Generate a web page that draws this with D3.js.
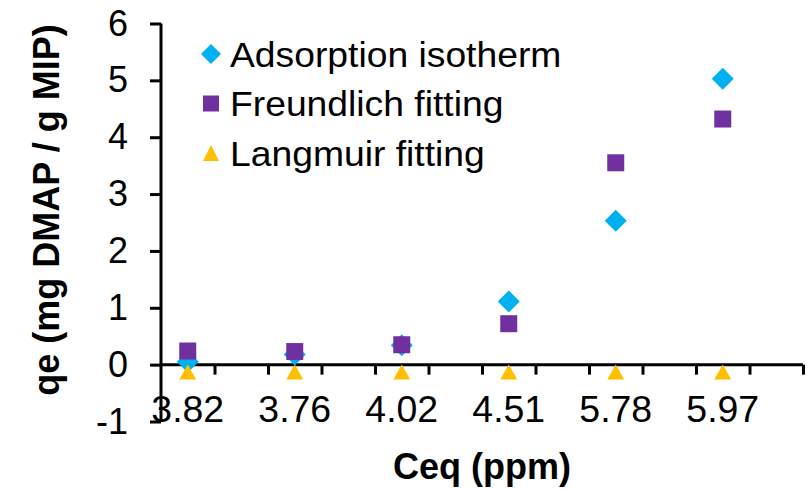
<!DOCTYPE html>
<html>
<head>
<meta charset="utf-8">
<script src="https://cdn.jsdelivr.net/npm/d3@7"></script>
<style>
  body { margin: 0; background: #fff; }
  svg { display: block; font-family: Arial, "Liberation Sans", sans-serif; }
</style>
</head>
<body>
<svg id="chart"></svg>
<script>
const WIDTH = 811;
const HEIGHT = 489;

// categories on the x axis (Ceq, ppm)
const categories = ["3.82", "3.76", "4.02", "4.51", "5.78", "5.97"];
const adsorption = [0.05, 0.18, 0.34, 1.11, 2.53, 5.03];
const freundlich = [0.24, 0.23, 0.35, 0.72, 3.55, 4.32];
const langmuir = [-0.13, -0.13, -0.13, -0.13, -0.13, -0.13];
const yTicks = [-1, 0, 1, 2, 3, 4, 5, 6];

const seriesNames = ["Adsorption isotherm", "Freundlich fitting", "Langmuir fitting"];
const seriesValues = [adsorption, freundlich, langmuir];
const seriesColors = ["#00B0F0", "#7030A0", "#FFC000"];
const seriesShapes = ["diamond", "square", "triangle"];

const LEFT = 161;
const RIGHT = 803;
const TOP = 23.5;
const BOTTOM = 421.5;

// the axis has two tick slots per category, points sit in the first half of each pair
const xScale = d3.scaleLinear().domain([0, categories.length * 2]).range([LEFT, RIGHT]);
const yScale = d3.scaleLinear().domain([-1, 6]).range([BOTTOM, TOP]);
const xPos = i => xScale(i * 2 + 0.5);

const svg = d3.select('#chart').attr('width', WIDTH).attr('height', HEIGHT);

// y axis
const yAxis = svg.append('g')
    .attr('transform', `translate(${LEFT}, 0)`)
    .call(d3.axisLeft(yScale).tickValues(yTicks).tickSize(11).tickPadding(22).tickFormat(d3.format('d')));
yAxis.select('.domain').attr('stroke', '#000').attr('stroke-width', 3).attr('d', `M0,${BOTTOM}V${TOP}`);
yAxis.selectAll('.tick line').attr('stroke', '#000').attr('stroke-width', 3);
yAxis.selectAll('.tick text')
    .attr('fill', '#000')
    .style('font-size', '36px')
    .text(d => d < 0 ? '-' + Math.abs(d) : d);

// x axis at y = 0
const xAxis = svg.append('g')
    .attr('transform', `translate(0, ${yScale(0)})`)
    .call(d3.axisBottom(xScale).ticks(categories.length * 2).tickSize(10).tickFormat(''));
xAxis.select('.domain').attr('stroke', '#000').attr('stroke-width', 3).attr('d', `M${LEFT},0H${RIGHT}`);
xAxis.selectAll('.tick line').attr('stroke', '#000').attr('stroke-width', 3);
xAxis.selectAll('.tick').filter(d => d === 0).remove();

// category labels
svg.append('g').selectAll('text')
    .data(categories)
    .join('text')
    .attr('transform', (d, i) => `translate(${xPos(i)}, 421.5) scale(1.04, 1)`)
    .attr('text-anchor', 'middle')
    .style('font-size', '36px')
    .attr('fill', '#000')
    .text(d => d);

// axis titles
svg.append('text')
    .attr('x', (LEFT + RIGHT) / 2)
    .attr('y', 479)
    .attr('text-anchor', 'middle')
    .style('font-size', '36px')
    .style('font-weight', 'bold')
    .text('Ceq (ppm)');

svg.append('text')
    .attr('transform', 'translate(59, 210) rotate(-90)')
    .attr('text-anchor', 'middle')
    .style('font-size', '36px')
    .style('font-weight', 'bold')
    .text('qe (mg DMAP / g MIP)');

function markerPath(shape) {
    if (shape === 'diamond') return 'M0,-11L11,0L0,11L-11,0Z';
    if (shape === 'square') return 'M-8.5,-8.5H8.5V8.5H-8.5Z';
    return 'M0,-7.5L8.5,7.5H-8.5Z';
}

// data markers, drawn series by series
seriesValues.forEach((values, s) => {
    svg.append('g').selectAll('path')
        .data(values)
        .join('path')
        .attr('transform', (d, i) => `translate(${xPos(i)}, ${yScale(d)})`)
        .attr('d', markerPath(seriesShapes[s]))
        .attr('fill', seriesColors[s]);
});

// legend
const legend = svg.append('g').selectAll('g')
    .data(seriesNames)
    .join('g')
    .attr('transform', (d, i) => `translate(211, ${54 + i * 49.5})`);

legend.append('path')
    .attr('d', (d, i) => {
        if (seriesShapes[i] === 'diamond') return 'M0,-10L10,0L0,10L-10,0Z';
        if (seriesShapes[i] === 'square') return 'M-8,-8H8V8H-8Z';
        return 'M0,-8L8,8H-8Z';
    })
    .attr('fill', (d, i) => seriesColors[i]);

legend.append('text')
    .attr('transform', 'translate(19, 12.5) scale(1.065, 1)')
    .style('font-size', '35px')
    .attr('fill', '#000')
    .text(d => d);
</script>
</body>
</html>
